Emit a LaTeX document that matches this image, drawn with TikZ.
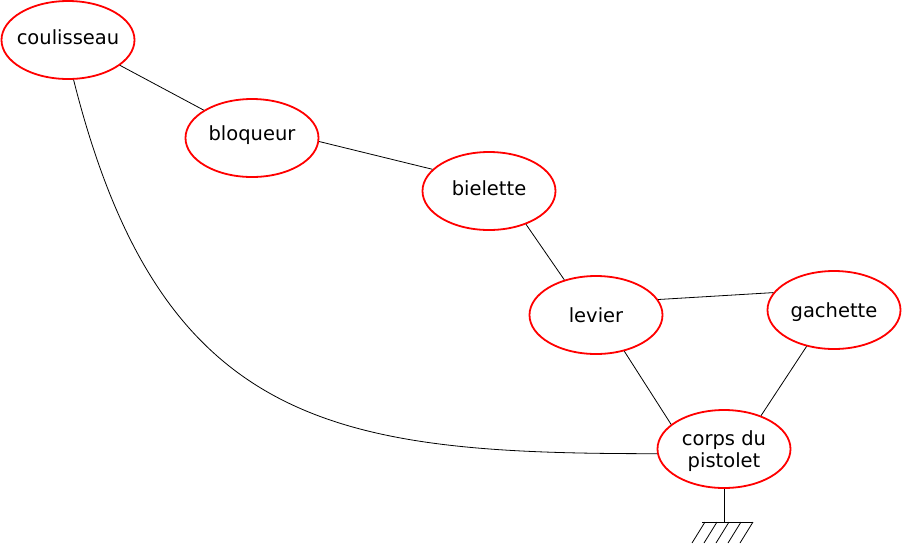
\documentclass[tikz,border=0pt]{standalone}
\usepackage{fontspec}
\setmainfont{DejaVu Sans}
\usetikzlibrary{shapes.geometric}
\newcommand{\partlabel}[2][0pt]{\raisebox{#1}[\height][\depth]{\makebox[0pt][c]{\begin{tabular}{@{}c@{}}#2\end{tabular}}}}
\begin{document}
\begin{tikzpicture}[x=1pt,y=-1pt,
  part/.style={ellipse,draw=red,line width=1.8pt,minimum width=133pt,minimum height=78pt,inner sep=0pt,
    font=\fontsize{19.5}{22}\selectfont},
  link/.style={draw=black,line width=0.8pt},
  hatch/.style={draw=black,line width=0.8pt}]
\useasboundingbox (0,0) rectangle (902,544);
\node[part] (cou) at (68,40) {\partlabel{coulisseau}};
\node[part] (blo) at (252,138) {\partlabel[2pt]{bloqueur}};
\node[part] (bie) at (489,191) {\partlabel{bielette}};
\node[part] (lev) at (596,315) {\partlabel[-3pt]{levier}};
\node[part] (gac) at (834,310) {\partlabel[-3pt]{gachette}};
\node[part] (cor) at (724,449) {\partlabel[-3pt]{corps du\\pistolet}};
\draw[link] (cou.-26) -- (blo.150);
\draw[link] (blo.-3) -- (bie.159);
\draw[link] (bie.-42) -- (lev.132);
\draw[link] (lev.14) -- (gac.164);
\draw[link] (lev.-52) -- (cor.155);
\draw[link] (gac.-127) -- (cor.42);
\draw[link] (cou.-82) .. controls +(88,350) and +(-320,0) .. (cor.184);
\coordinate (g) at (724,522);
\draw[link] (cor.south) -- (g);
\coordinate (gl) at (702,522);
\coordinate (gr) at (753,522);
\draw[hatch] (gl) -- (gr);
\foreach \x in {705,717,729,741,753}{
  \draw[hatch] (\x,522) -- ++(-13,21);
}
\end{tikzpicture}
\end{document}
